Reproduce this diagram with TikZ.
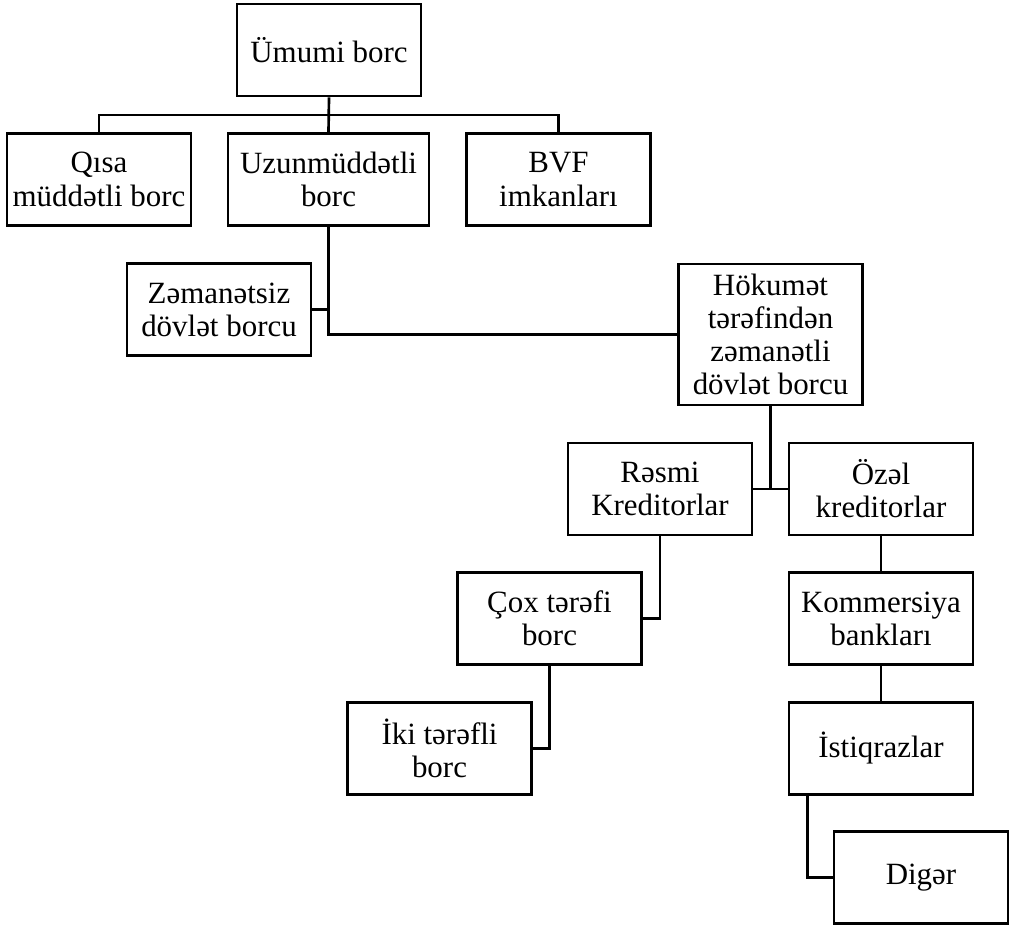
\documentclass[tikz,border=0pt]{standalone}
\usepackage{fontspec}
\setmainfont{Liberation Serif}
\usetikzlibrary{calc}

\begin{document}
\begin{tikzpicture}[x=0.025cm, y=-0.025cm,
		box/.style={draw, line width=1.9pt, minimum width=4.6cm, minimum height=2.3cm, align=center, inner sep=1pt, font=\fontsize{22}{23.6}\selectfont},
		link/.style={line width=1.9pt}]
			%%%%% START %%%%%
			
			\useasboundingbox (0, 0) rectangle (1010, 926);
			
			\node[box] (umumi) at (329, 50) {Ümumi borc};
			
			\node[box] (qisa) at (99, 179.5) {Qısa\\müddətli borc};
			\node[box, minimum width=5.025cm] (uzun) at (328.5, 179.5) {Uzunmüddətli\\borc};
			\node[box] (bvf) at (558.5, 179.5) {BVF\\imkanları};
			
			\node[box] (zemanetsiz) at (219, 309.5) {Zəmanətsiz\\dövlət borcu};
			\node[box, minimum height=3.525cm] (hokumet) at (770.5, 334.5) {Hökumət\\tərəfindən\\zəmanətli\\dövlət borcu};
			
			\node[box] (resmi) at (660, 489) {Rəsmi\\Kreditorlar};
			\node[box] (ozel) at (881, 489) {Özəl\\kreditorlar};
			
			\node[box] (cox) at (549.5, 618.5) {Çox tərəfi\\borc};
			\node[box] (iki) at (439.5, 748.5) {İki tərəfli\\borc};
			
			\node[box] (kom) at (881, 618.5) {Kommersiya\\bankları};
			\node[box] (ist) at (881, 748.5) {İstiqrazlar};
			\node[box, minimum width=4.35cm] (diger) at (921, 877.5) {Digər};
			
			% top level
			\coordinate (bar) at (0, 115);
			\draw[link] (umumi.south) -- (uzun.north);
			\draw[link] (qisa.north) -- (qisa.north |- bar) -- (bvf.north |- bar) -- (bvf.north);
			
			% long term debt
			\draw[link] (uzun.south) |- (hokumet.west);
			\draw[link] (zemanetsiz.east) -- (zemanetsiz.east -| uzun.south);
			
			% creditors
			\draw[link] (hokumet.south) -- (hokumet.south |- resmi.east);
			\draw[link] (resmi.east) -- (ozel.west);
			\draw[link] (resmi.south) |- (cox.east);
			\draw[link] (cox.south) |- (iki.east);
			
			\draw[link] (ozel.south) -- (kom.north);
			\draw[link] (kom.south) -- (ist.north);
			\draw[link] ([xshift=0.5cm]ist.south west) |- (diger.west);
			
			%%%%% END %%%%%
		\end{tikzpicture}
\end{document}
